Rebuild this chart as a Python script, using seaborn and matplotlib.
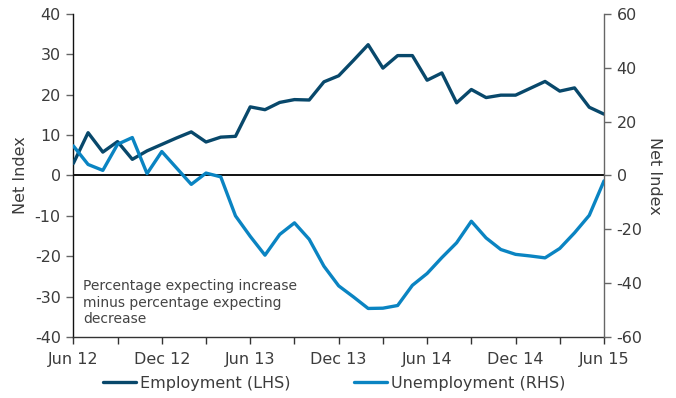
import matplotlib
matplotlib.use("Agg")
import matplotlib.pyplot as plt
import seaborn as sns
import pandas as pd
import numpy as np

# Monthly survey net balances, Jun 2012 - Jun 2015
months = pd.date_range("2012-06-01", "2015-06-01", freq="MS")
employment = [3.0, 10.6, 5.8, 8.4, 4.0, 6.1, 7.7, 9.3, 10.8, 8.3, 9.5, 9.7,
              17.0, 16.3, 18.1, 18.8, 18.7, 23.2, 24.7, 28.5, 32.4, 26.6, 29.7, 29.7,
              23.6, 25.4, 18.0, 21.3, 19.3, 19.9, 19.9, 21.6, 23.3, 20.9, 21.7, 16.9, 15.2]
unemployment = [11.0, 4.1, 1.9, 11.6, 14.1, 0.7, 8.9, 2.8, -3.3, 0.9, -0.5, -15.0,
                -22.6, -29.6, -21.9, -17.6, -23.7, -33.7, -41.0, -45.1, -49.4, -49.3, -48.3, -40.8,
                -36.4, -30.5, -25.0, -17.0, -23.2, -27.5, -29.3, -29.9, -30.6, -27.1, -21.3, -14.8, -2.0]
x_labels = ["Jun 12", "Dec 12", "Jun 13", "Dec 13", "Jun 14", "Dec 14", "Jun 15"]

emp_color = "#08486b"
unemp_color = "#0a84c2"
text_color = "#3c3c3c"

sns.set_theme(style="white")
plt.rcParams["font.family"] = ["DejaVu Sans"]
plt.rcParams["axes.unicode_minus"] = False

df = pd.DataFrame({"t": np.arange(len(months)),
                   "Employment (LHS)": employment,
                   "Unemployment (RHS)": unemployment})

fig = plt.figure(figsize=(6.76, 3.98), dpi=100)
ax = fig.add_axes([0.1085, 0.1533, 0.785, 0.8115])
ax2 = ax.twinx()

sns.lineplot(data=df, x="t", y="Employment (LHS)", ax=ax, color=emp_color,
             linewidth=2.4, label="Employment (LHS)", legend=False, zorder=3)
sns.lineplot(data=df, x="t", y="Unemployment (RHS)", ax=ax2, color=unemp_color,
             linewidth=2.4, label="Unemployment (RHS)", legend=False, zorder=3)

ax.axhline(0, color="#111111", linewidth=1.4, zorder=2)

ax.set_xlim(0, len(months) - 1)
ax.set_ylim(-40, 40)
ax2.set_ylim(-60, 60)
ax.set_yticks(np.arange(-40, 41, 10))
ax2.set_yticks(np.arange(-60, 61, 20))
ax.set_xticks(np.arange(0, len(months), 3), minor=True)
ax.set_xticks(np.arange(0, len(months), 6))
ax.set_xticklabels(x_labels)

for a in (ax, ax2):
    a.set_xlabel("")
    for s in a.spines.values():
        s.set_visible(False)

ax.spines["left"].set_visible(True)
ax.spines["left"].set_color("#111111")
ax.spines["bottom"].set_visible(True)
ax.spines["bottom"].set_color("#333333")
ax2.spines["right"].set_visible(True)
ax2.spines["right"].set_color("#666666")
for s in ("left", "bottom"):
    ax.spines[s].set_linewidth(1.0)
ax2.spines["right"].set_linewidth(1.0)

fs = 11.5
ax.tick_params(axis="y", which="both", left=True, length=5, width=1, color="#666666",
               labelsize=fs, labelcolor=text_color, pad=4)
ax.tick_params(axis="x", which="both", bottom=True, length=5, width=1, color="#333333",
               labelsize=fs, labelcolor=text_color, pad=6)
ax2.tick_params(axis="y", right=True, length=5, width=1, color="#666666",
                labelsize=fs, labelcolor=text_color, pad=4)

ax.set_ylabel("Net Index", fontsize=fs, color=text_color)
ax2.set_ylabel("Net Index", fontsize=fs, color=text_color, rotation=270, va="center")
ax.yaxis.set_label_coords(-0.086, 0.5)
ax2.yaxis.set_label_coords(1.096, 0.5)

ax.text(0.65, -25.6, "Percentage expecting increase\nminus percentage expecting\ndecrease",
        fontsize=10.0, color="#444444", va="top", ha="left", linespacing=1.25)

h1, l1 = ax.get_legend_handles_labels()
h2, l2 = ax2.get_legend_handles_labels()
fig.legend(h1 + h2, l1 + l2, loc="center", bbox_to_anchor=(0.494, 0.037), ncol=2,
           frameon=False, fontsize=fs, handlelength=2.1, handletextpad=0.2,
           columnspacing=4.0, labelcolor=text_color)

fig.savefig("out.png", dpi=100)
